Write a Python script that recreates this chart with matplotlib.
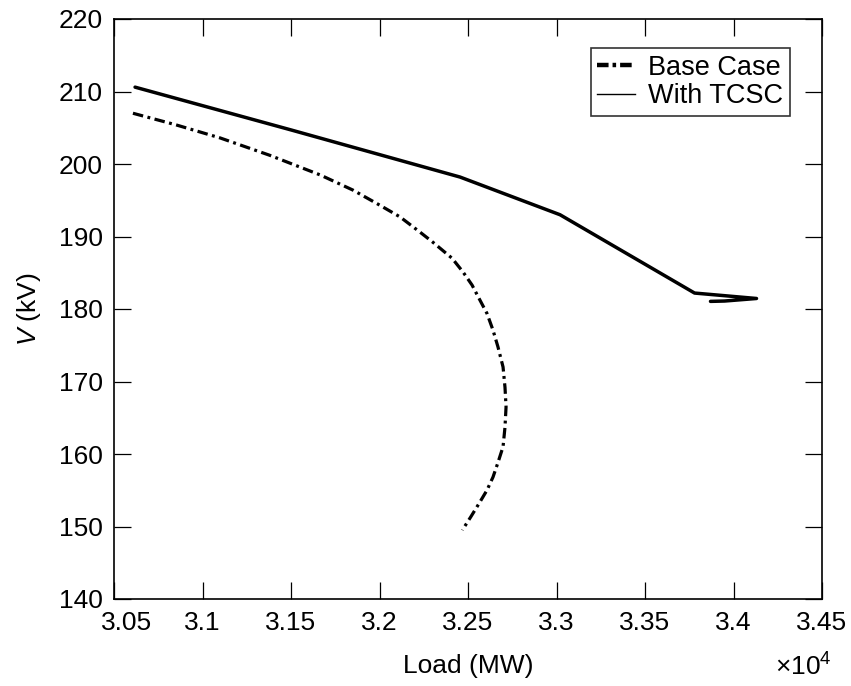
import matplotlib
matplotlib.use("Agg")
import matplotlib.pyplot as plt
from matplotlib.lines import Line2D
from matplotlib.transforms import ScaledTranslation

plt.rcParams['font.family'] = ['Liberation Sans', 'DejaVu Sans']
plt.rcParams['mathtext.fontset'] = 'custom'
plt.rcParams['mathtext.rm'] = 'Liberation Sans'
plt.rcParams['mathtext.it'] = 'Liberation Sans:italic'

# Load in units of 1e4 MW, voltage in kV
base_load = [3.0607, 3.085, 3.1099, 3.138, 3.1664, 3.185, 3.2003, 3.2116, 3.2229,
             3.2302, 3.2410, 3.2472, 3.2523, 3.2568, 3.2607, 3.2641, 3.2669,
             3.2698, 3.2709, 3.2715, 3.2709, 3.2698, 3.2669, 3.2641, 3.2607,
             3.2563, 3.2515, 3.2468]
base_v = [207.0, 205.4, 203.6, 201.2, 198.5, 196.4, 194.3, 192.7, 190.6,
          189.2, 187.0, 185.1, 183.3, 181.2, 179.4, 177.1, 174.8,
          172.0, 169.2, 166.5, 163.7, 161.0, 158.8, 156.8, 155.0,
          153.2, 151.3, 149.5]

tcsc_load = [3.0619, 3.15, 3.2455, 3.302, 3.378, 3.413, 3.395, 3.387]
tcsc_v = [210.6, 204.7, 198.2, 193.0, 182.2, 181.45, 181.1, 181.05]

xticks = [3.05, 3.1, 3.15, 3.2, 3.25, 3.3, 3.35, 3.4, 3.45]
xticklabels = ['3.05', '3.1', '3.15', '3.2', '3.25', '3.3', '3.35', '3.4', '3.45']
yticks = [140, 150, 160, 170, 180, 190, 200, 210, 220]

FS = 19
fig = plt.figure(figsize=(8.51, 6.86), dpi=100)
L, R, T, B = 114, 822, 19, 599
ax = fig.add_axes([L / 851, 1 - B / 686, (R - L) / 851, (B - T) / 686])

ax.plot(base_load, base_v, color='black', lw=2.3, linestyle=(0, (3.3, 1.4, 0.9, 1.4)))
ax.plot(tcsc_load, tcsc_v, color='black', lw=2.5, solid_joinstyle='round',
        solid_capstyle='round')

ax.set_xlim(3.05, 3.45)
ax.set_ylim(140, 220)
ax.set_xticks(xticks)
ax.set_xticklabels(xticklabels)
ax.set_yticks(yticks)
ax.tick_params(direction='in', length=12.5, width=0.9, labelsize=FS, top=True, right=True)
ax.tick_params(axis='x', pad=8.5)
ax.tick_params(axis='y', pad=8)
for s in ax.spines.values():
    s.set_linewidth(1.2)

# shift first x tick label right (as in reference)
lab0 = ax.get_xticklabels()[0]
lab0.set_transform(lab0.get_transform() + ScaledTranslation(0.13, 0, fig.dpi_scale_trans))

ax.set_xlabel('Load (MW)', fontsize=FS)
ax.xaxis.set_label_coords(0.5, -0.095)
ax.set_ylabel(r'$V$ (kV)', fontsize=FS)
ax.yaxis.set_label_coords(-0.100, 0.5)
fig.text(832 / 851, 1 - 676 / 686, r'$\times$10$^{4}$', fontsize=FS, ha='right', va='baseline')

handles = [Line2D([], [], color='black', lw=3.2, linestyle=(0, (2.6, 0.9, 0.8, 0.9))),
           Line2D([], [], color='black', lw=1)]
leg = ax.legend(handles, ['Base Case', 'With TCSC'], loc='upper right', fontsize=19.5,
                frameon=True, fancybox=False, edgecolor='black', handlelength=1.4,
                bbox_to_anchor=(790 / 851, 1 - 48 / 686), bbox_transform=fig.transFigure,
                borderaxespad=0, labelspacing=0.1, borderpad=0.25, handletextpad=0.48)
leg.get_frame().set_linewidth(1.2)

fig.savefig('out.png', dpi=100)
